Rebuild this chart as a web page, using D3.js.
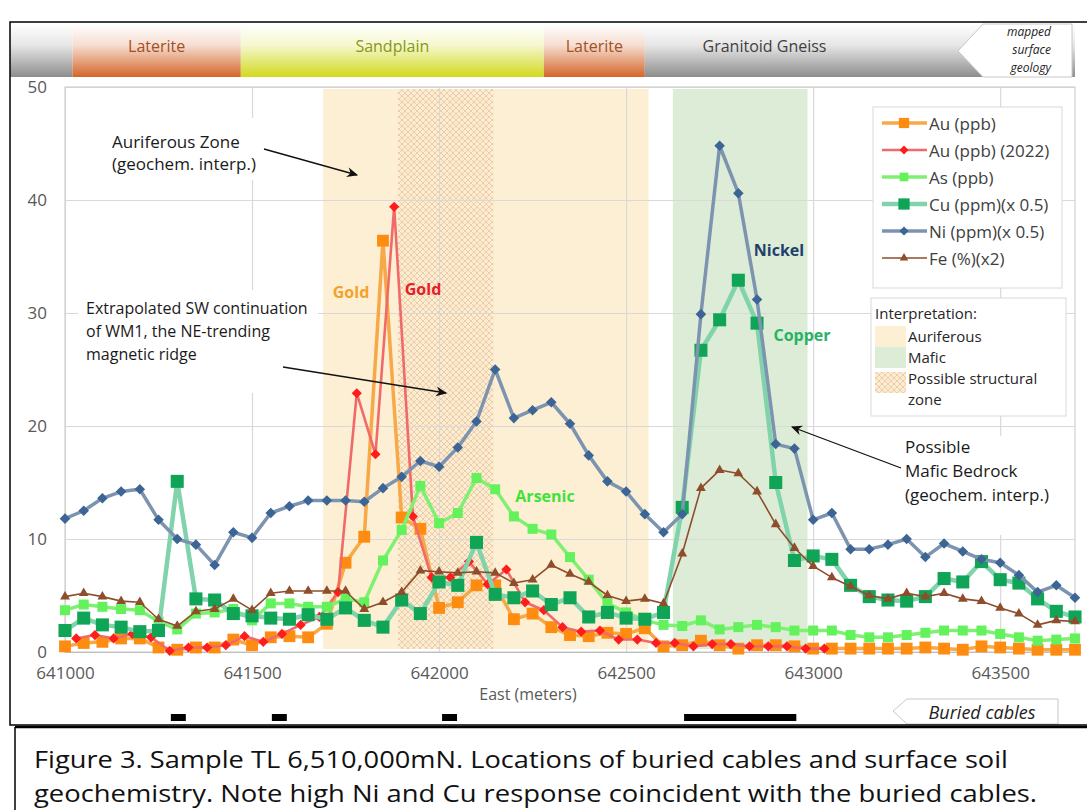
<!DOCTYPE html>
<html>
<head>
<meta charset="utf-8">
<script src="https://cdn.jsdelivr.net/npm/d3@7"></script>
<style>
  body { margin: 0; background: #fff; }
  svg text { font-family: "Open Sans", "Noto Sans", sans-serif; }
</style>
</head>
<body>
<svg id="chart" width="1087" height="810"></svg>
<script>
// Soil sample stations, East (m)
let eastings = [641000, 641050, 641100, 641150, 641200, 641250, 641300, 641350, 641400, 641450,
    641500, 641550, 641600, 641650, 641700, 641750, 641800, 641850, 641900, 641950,
    642000, 642050, 642100, 642150, 642200, 642250, 642300, 642350, 642400, 642450,
    642500, 642550, 642600, 642650, 642700, 642750, 642800, 642850, 642900, 642950,
    643000, 643050, 643100, 643150, 643200, 643250, 643300, 643350, 643400, 643450,
    643500, 643550, 643600, 643650, 643700];

// 2022 gold re-sample stations
let eastings2022 = [641030, 641080, 641130, 641180, 641230, 641280, 641330, 641380, 641430, 641480,
    641530, 641580, 641630, 641680, 641730, 641780, 641830, 641880, 641930, 641980,
    642030, 642080, 642130, 642180, 642230, 642280, 642330, 642380, 642430, 642480,
    642530, 642580, 642630, 642680, 642730, 642780, 642830, 642880, 642930, 642980,
    643030];

let auPpb = [0.5, 0.8, 0.9, 1.2, 1.2, 0.4, 0.2, 0.4, 0.4, 1.1,
    0.6, 1.3, 1.4, 1.3, 2.5, 7.9, 10.2, 36.4, 11.9, 10.9,
    3.9, 4.4, 5.9, 5.9, 2.9, 3.4, 2.2, 1.5, 1.4, 1.7,
    1.6, 2.1, 0.5, 0.6, 1.0, 0.6, 0.3, 0.6, 0.6, 0.5,
    0.3, 0.3, 0.3, 0.3, 0.3, 0.3, 0.4, 0.3, 0.2, 0.5,
    0.4, 0.3, 0.2, 0.2, 0.2];

let au2022Ppb = [1.2, 1.5, 1.2, 1.6, 1.3, 0.1, 0.4, 0.4, 0.6, 1.4,
    0.9, 1.6, 2.4, 3.1, 5.3, 22.9, 17.5, 39.4, 12.0, 6.6,
    6.6, 8.0, 6.0, 7.3, 4.4, 3.7, 2.2, 1.8, 1.9, 1.1,
    1.1, 0.8, 0.8, 0.5, 0.7, 0.7, 0.5, 0.5, 0.5, 0.3,
    0.3];

let asPpb = [3.7, 4.2, 4.0, 3.8, 3.7, 2.7, 2.0, 3.4, 3.5, 3.8,
    2.8, 4.3, 4.3, 4.0, 4.0, 4.7, 4.4, 8.1, 10.8, 14.7,
    11.4, 12.3, 15.4, 14.4, 12.0, 10.9, 10.4, 8.4, 6.4, 4.3,
    3.5, 2.8, 2.4, 2.3, 2.8, 2.0, 2.2, 2.4, 2.2, 1.9,
    1.9, 1.9, 1.5, 1.3, 1.3, 1.5, 1.7, 1.9, 1.9, 1.9,
    1.6, 1.3, 1.0, 1.1, 1.2];

let cuHalf = [1.9, 3.0, 2.4, 2.2, 1.8, 1.9, 15.1, 4.7, 4.6, 3.4,
    3.2, 3.0, 2.9, 3.3, 2.9, 3.9, 2.8, 2.2, 4.6, 3.4,
    6.2, 5.9, 9.7, 5.1, 4.8, 5.4, 4.2, 4.8, 3.1, 3.5,
    3.0, 2.9, 3.5, 12.8, 26.7, 29.4, 32.9, 29.1, 15.0, 8.1,
    8.5, 8.2, 5.9, 4.9, 4.6, 4.5, 4.9, 6.5, 6.2, 8.0,
    6.4, 6.1, 4.7, 3.6, 3.1];

let niHalf = [11.8, 12.5, 13.6, 14.2, 14.4, 11.7, 10.0, 9.5, 7.7, 10.6,
    10.1, 12.3, 12.9, 13.4, 13.4, 13.4, 13.3, 14.5, 15.5, 16.9,
    16.4, 18.1, 20.4, 25.0, 20.7, 21.4, 22.1, 20.2, 17.4, 15.1,
    14.2, 12.2, 10.6, 12.2, 29.9, 44.8, 40.6, 31.2, 18.4, 18.0,
    11.7, 12.3, 9.1, 9.1, 9.5, 10.0, 8.4, 9.6, 8.9, 8.2,
    7.9, 6.8, 5.3, 5.9, 4.8];

let feDouble = [4.9, 5.2, 4.9, 4.5, 4.4, 2.9, 2.3, 3.6, 3.8, 4.7,
    3.7, 5.2, 5.4, 5.4, 5.4, 5.4, 3.8, 4.4, 5.3, 7.2,
    7.1, 7.0, 7.1, 7.0, 6.1, 6.4, 7.7, 6.9, 6.2, 5.0,
    4.5, 4.7, 4.3, 8.7, 14.5, 16.1, 15.8, 14.2, 11.3, 9.2,
    7.6, 6.6, 5.8, 5.0, 4.7, 5.2, 4.9, 5.2, 4.7, 4.5,
    3.9, 3.4, 2.4, 2.8, 2.7];

// Interpretation zones
let zoneFrom = [641690, 641890, 642625];
let zoneTo = [642560, 642145, 642985];

// Buried cables
let cableFrom = [641283, 641553, 642008, 642655];
let cableTo = [641323, 641593, 642048, 642955];

// Mapped surface geology
let geoNames = ["", "Laterite", "Sandplain", "Laterite", "Granitoid Gneiss"];
let geoFrom = [640850, 641020, 641470, 642280, 642550];
let geoTo = [641020, 641470, 642280, 642550, 643700];
let geoLabelAt = [0, 641245, 641875, 642415, 642870];

let yTicks = [0, 10, 20, 30, 40, 50];
let xTicks = [641000, 641500, 642000, 642500, 643000, 643500];

//*************************************************************************************
// SET UP

let svg = d3.select("#chart");
let defs = svg.append("defs");

let x = d3.scaleLinear().domain([641000, 643700]).range([65, 1075]);
let y = d3.scaleLinear().domain([0, 50]).range([652, 87]);
let plotW = x.range()[1] - x.range()[0];
let plotH = y.range()[0] - y.range()[1];

// crosshatch for the possible structural zone
let hatch = defs.append("pattern")
    .attr("id", "hatch")
    .attr("patternUnits", "userSpaceOnUse")
    .attr("width", 6).attr("height", 6);
hatch.append("rect").attr("width", 6).attr("height", 6).attr("fill", "#fcedd2");
hatch.append("path").attr("d", "M0,0L6,6M6,0L0,6")
    .attr("stroke", "#e0b78a").attr("stroke-width", 0.6);

// arrow head
defs.append("marker")
    .attr("id", "arrow")
    .attr("viewBox", "0 0 10 10")
    .attr("refX", 9).attr("refY", 5)
    .attr("markerWidth", 15).attr("markerHeight", 11)
    .attr("markerUnits", "userSpaceOnUse")
    .attr("orient", "auto")
    .append("path")
    .attr("d", "M0,0.5 L10,5 L0,9.5 L3,5 z")
    .attr("fill", "#111");

//*************************************************************************************
// GEOLOGY STRIP

let geoColors = ["#8d8d8d", "#d4662a", "#d2da1e", "#d4662a", "#8d8d8d"];
let geoText = ["#000", "#a24f27", "#879812", "#a24f27", "#3f3f3f"];

geoNames.forEach(function (n, i) {
    let grad = defs.append("linearGradient")
        .attr("id", "geo" + i)
        .attr("x1", 0).attr("y1", 0).attr("x2", 0).attr("y2", 1);
    grad.append("stop").attr("offset", "0%").attr("stop-color", "#ffffff");
    grad.append("stop").attr("offset", "40%").attr("stop-color", d3.interpolateRgb("#ffffff", geoColors[i])(0.22));
    grad.append("stop").attr("offset", "100%").attr("stop-color", geoColors[i]);
});

svg.append("g").selectAll("rect")
    .data(geoNames)
    .enter()
    .append("rect")
    .attr("x", (d, i) => Math.max(10, x(geoFrom[i])))
    .attr("width", (d, i) => x(geoTo[i]) - Math.max(10, x(geoFrom[i])))
    .attr("y", 24)
    .attr("height", 53)
    .attr("fill", (d, i) => "url(#geo" + i + ")");

svg.append("g").selectAll("text")
    .data(geoNames)
    .enter()
    .append("text")
    .attr("x", (d, i) => x(geoLabelAt[i]))
    .attr("y", 46)
    .attr("text-anchor", "middle")
    .attr("dominant-baseline", "central")
    .style("font-size", "16px")
    .attr("fill", (d, i) => geoText[i])
    .text(d => d);

// "mapped surface geology" tag
svg.append("polygon")
    .attr("points", "958,51 983,24 1072,24 1072,77 983,77")
    .attr("fill", "#fff")
    .attr("stroke", "#c8c8c8");
["mapped", "surface", "geology"].forEach(function (t, i) {
    svg.append("text")
        .attr("x", 1051).attr("y", 31 + i * 18)
        .attr("text-anchor", "end")
        .attr("dominant-baseline", "central")
        .style("font-size", "12px")
        .style("font-style", "italic")
        .attr("fill", "#222")
        .text(t);
});

//*************************************************************************************
// ZONES AND GRID

let zoneFill = ["#fdefd3", "url(#hatch)", "#ddecd6"];
svg.append("g").selectAll("rect")
    .data(zoneFrom)
    .enter()
    .append("rect")
    .attr("x", (d, i) => x(d))
    .attr("width", (d, i) => x(zoneTo[i]) - x(d))
    .attr("y", y(50) + 2)
    .attr("height", y(0) - y(50) - 5)
    .attr("fill", (d, i) => zoneFill[i]);

// horizontal gridlines
svg.append("g")
    .attr("transform", `translate(${x.range()[0]},0)`)
    .call(d3.axisLeft(y).tickValues(yTicks).tickSize(-plotW).tickFormat(""))
    .call(g => g.select(".domain").remove())
    .selectAll("line").attr("stroke", "#d9d9d9").attr("stroke-width", 1.2);

// vertical gridlines
svg.append("g")
    .attr("transform", `translate(0,${y(0)})`)
    .call(d3.axisBottom(x).tickValues(xTicks).tickSize(-plotH).tickFormat(""))
    .call(g => g.select(".domain").remove())
    .selectAll("line").attr("stroke", "#d9d9d9").attr("stroke-width", 1.2);

// plot border
svg.append("rect")
    .attr("x", x.range()[0]).attr("y", y(50))
    .attr("width", plotW).attr("height", plotH)
    .attr("fill", "none").attr("stroke", "#d0d0d0").attr("stroke-width", 1.2);

// white text boxes of the annotations
svg.append("rect").attr("x", 100).attr("y", 118).attr("width", 172).attr("height", 62).attr("fill", "#fff");
svg.append("rect").attr("x", 78).attr("y", 290).attr("width", 240).attr("height", 103).attr("fill", "#fff");
svg.append("rect").attr("x", 898).attr("y", 436).attr("width", 172).attr("height", 99).attr("fill", "#fff");

// axis tick labels
svg.append("g")
    .attr("transform", `translate(${x.range()[0]},0)`)
    .call(d3.axisLeft(y).tickValues(yTicks).tickSize(0).tickPadding(18))
    .call(g => g.select(".domain").remove())
    .selectAll("text")
    .style("font-size", "17px").attr("fill", "#595959");

svg.append("g")
    .attr("transform", `translate(0,${y(0)})`)
    .call(d3.axisBottom(x).tickValues(xTicks).tickSize(0).tickPadding(15).tickFormat(d3.format("d")))
    .call(g => g.select(".domain").attr("stroke", "#bfbfbf"))
    .selectAll("text")
    .style("font-size", "17px").attr("fill", "#595959");

svg.append("text")
    .attr("x", 528).attr("y", 694)
    .attr("text-anchor", "middle")
    .attr("dominant-baseline", "central")
    .style("font-size", "16px")
    .attr("fill", "#595959")
    .text("East (meters)");

//*************************************************************************************
// SERIES

let seriesList = [
    { name: "Au (ppb)", east: eastings, vals: auPpb, line: "#f7a847", width: 3.5, fill: "#fd8c10", shape: d3.symbolSquare, size: 140, rot: 0 },
    { name: "Au (ppb) (2022)", east: eastings2022, vals: au2022Ppb, line: "#f06a6a", width: 2.6, fill: "#ff1c1c", shape: d3.symbolSquare, size: 52, rot: 45 },
    { name: "As (ppb)", east: eastings, vals: asPpb, line: "#80f072", width: 3.5, fill: "#63f25b", shape: d3.symbolSquare, size: 100, rot: 0 },
    { name: "Cu (ppm)(x 0.5)", east: eastings, vals: cuHalf, line: "#80d3ab", width: 4.5, fill: "#10a556", shape: d3.symbolSquare, size: 170, rot: 0 },
    { name: "Ni (ppm)(x 0.5)", east: eastings, vals: niHalf, line: "#7c94b0", width: 3.5, fill: "#3c6494", shape: d3.symbolSquare, size: 56, rot: 45 },
    { name: "Fe (%)(x2)", east: eastings, vals: feDouble, line: "#8e4d2b", width: 1.6, fill: "#8e4d2b", shape: d3.symbolTriangle, size: 42, rot: 0 }
];

let lineGen = d3.line()
    .x(d => x(d[0]))
    .y(d => y(d[1]));

seriesList.forEach(function (s) {
    let pts = s.east.map((e, i) => [e, s.vals[i]]);
    let g = svg.append("g");

    g.append("path")
        .datum(pts)
        .attr("d", lineGen)
        .attr("fill", "none")
        .attr("stroke", s.line)
        .attr("stroke-width", s.width)
        .attr("stroke-linejoin", "round");

    g.selectAll("path.pt")
        .data(pts)
        .enter()
        .append("path")
        .attr("class", "pt")
        .attr("d", d3.symbol().type(s.shape).size(s.size))
        .attr("transform", d => `translate(${x(d[0])},${y(d[1])}) rotate(${s.rot})`)
        .attr("fill", s.fill);
});

//*************************************************************************************
// CABLES

svg.append("g").selectAll("rect")
    .data(cableFrom)
    .enter()
    .append("rect")
    .attr("x", d => x(d))
    .attr("width", (d, i) => x(cableTo[i]) - x(d))
    .attr("y", 714)
    .attr("height", 7)
    .attr("fill", "#000");

svg.append("polygon")
    .attr("points", "893,711 907,699 1058,699 1058,724 907,724")
    .attr("fill", "#fff")
    .attr("stroke", "#c8c8c8");
svg.append("text")
    .attr("x", 982).attr("y", 712)
    .attr("text-anchor", "middle")
    .attr("dominant-baseline", "central")
    .style("font-size", "18px")
    .style("font-style", "italic")
    .attr("fill", "#222")
    .text("Buried cables");

//*************************************************************************************
// ANNOTATIONS

function addLines(lines, x0, y0, step, size) {
    lines.forEach(function (t, i) {
        svg.append("text")
            .attr("x", x0).attr("y", y0 + i * step)
            .attr("dominant-baseline", "central")
            .style("font-size", size + "px")
            .attr("fill", "#1a1a1a")
            .text(t);
    });
}

addLines(["Auriferous Zone", "(geochem. interp.)"], 112, 141, 22, 17);
addLines(["Extrapolated SW continuation", "of WM1, the NE-trending", "magnetic ridge"], 86, 308, 23, 16);
addLines(["Possible", "Mafic Bedrock", "(geochem. interp.)"], 905, 446, 24, 17);

let arrows = [[264, 149, 357, 175], [283, 367, 446, 393], [901, 468, 792, 427]];
arrows.forEach(function (a) {
    svg.append("line")
        .attr("x1", a[0]).attr("y1", a[1])
        .attr("x2", a[2]).attr("y2", a[3])
        .attr("stroke", "#111")
        .attr("stroke-width", 1.3)
        .attr("marker-end", "url(#arrow)");
});

let tags = [["Gold", 351, 292, "#f4a12a"], ["Gold", 423, 289, "#e6202a"], ["Arsenic", 545, 496, "#3fe23b"],
    ["Nickel", 779, 250, "#213f6d"], ["Copper", 802, 335, "#27b266"]];
tags.forEach(function (t) {
    svg.append("text")
        .attr("x", t[1]).attr("y", t[2])
        .attr("text-anchor", "middle")
        .attr("dominant-baseline", "central")
        .style("font-size", "16px")
        .style("font-weight", "bold")
        .attr("fill", t[3])
        .text(t[0]);
});

//*************************************************************************************
// LEGENDS

svg.append("rect")
    .attr("x", 873).attr("y", 107).attr("width", 189).attr("height", 181)
    .attr("fill", "#fff").attr("stroke", "#d9d9d9");

seriesList.forEach(function (s, i) {
    let ly = 123 + i * 27;
    svg.append("line")
        .attr("x1", 882).attr("x2", 927).attr("y1", ly).attr("y2", ly)
        .attr("stroke", s.line).attr("stroke-width", s.width);
    svg.append("path")
        .attr("d", d3.symbol().type(s.shape).size(s.size * 0.75))
        .attr("transform", `translate(904,${ly}) rotate(${s.rot})`)
        .attr("fill", s.fill);
    svg.append("text")
        .attr("x", 929).attr("y", ly)
        .attr("dominant-baseline", "central")
        .style("font-size", "17px")
        .attr("fill", "#404040")
        .text(s.name);
});

svg.append("rect")
    .attr("x", 871).attr("y", 298).attr("width", 195).attr("height", 118)
    .attr("fill", "#fff").attr("stroke", "#d9d9d9");
svg.append("text")
    .attr("x", 875).attr("y", 313)
    .attr("dominant-baseline", "central")
    .style("font-size", "15px").attr("fill", "#262626")
    .text("Interpretation:");

let swatchY = [326, 347, 372];
let swatchFill = ["#fdefd3", "#ddecd6", "url(#hatch)"];
swatchY.forEach(function (sy, i) {
    svg.append("rect")
        .attr("x", 875).attr("y", sy).attr("width", 31).attr("height", 21)
        .attr("fill", swatchFill[i]);
});
addLinesLegend(["Auriferous", "Mafic", "Possible structural", "zone"], 908, 336);

function addLinesLegend(lines, x0, y0) {
    lines.forEach(function (t, i) {
        svg.append("text")
            .attr("x", x0).attr("y", y0 + i * 21)
            .attr("dominant-baseline", "central")
            .style("font-size", "15px")
            .attr("fill", "#262626")
            .text(t);
    });
}

//*************************************************************************************
// FRAMES AND CAPTION

svg.append("rect")
    .attr("x", 10).attr("y", 22).attr("width", 1090).attr("height", 703)
    .attr("fill", "none").attr("stroke", "#000").attr("stroke-width", 1.5);

svg.append("line").attr("x1", 15).attr("x2", 1087).attr("y1", 727).attr("y2", 727)
    .attr("stroke", "#000").attr("stroke-width", 2.5);
svg.append("line").attr("x1", 15).attr("x2", 15).attr("y1", 727).attr("y2", 810)
    .attr("stroke", "#000").attr("stroke-width", 1.5);

let captionLines = ["Figure 3. Sample TL 6,510,000mN. Locations of buried cables and surface soil",
    "geochemistry. Note high Ni and Cu response coincident with the buried cables."];
let captionWidths = [974, 1003];
captionLines.forEach(function (t, i) {
    svg.append("text")
        .attr("x", 34).attr("y", 759 + i * 34)
        .attr("dominant-baseline", "central")
        .attr("textLength", captionWidths[i])
        .attr("lengthAdjust", "spacingAndGlyphs")
        .style("font-size", "23px")
        .attr("fill", "#111")
        .text(t);
});
</script>
</body>
</html>
